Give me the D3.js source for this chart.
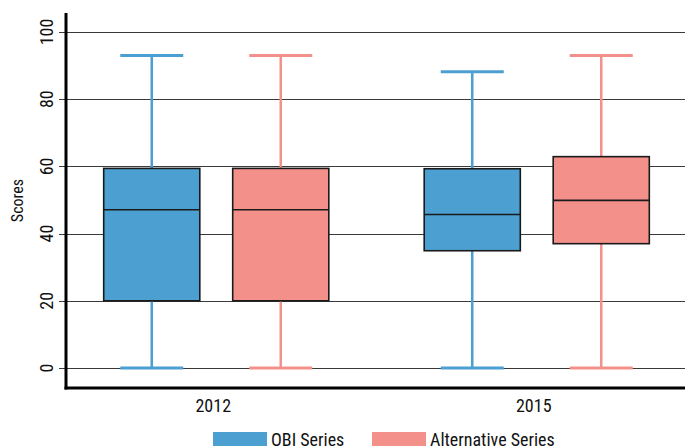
<!DOCTYPE html>
<html>
<head>
<meta charset="utf-8">
<script src="https://cdn.jsdelivr.net/npm/d3@7"></script>
<style>
  body { margin: 0; background: #fff; }
  svg text { font-family: "Liberation Sans Narrow", "Arial Narrow", "Roboto Condensed", sans-serif; fill: #111; }
</style>
</head>
<body>
<svg id="chart" width="685" height="446"></svg>
<script>
"use strict"

// data
let years = ["2012", "2015"];
let series = ["OBI Series", "Alternative Series"];
let colors = ["#4c9fd1", "#f4908a"];
// [whisker low, q1, median, q3, whisker high]
let obiStats = [[0, 20, 47.1, 59.4, 93], [0, 34.9, 45.7, 59.3, 88.2]];
let altStats = [[0, 20, 47.1, 59.4, 93], [0, 37, 49.9, 62.9, 93]];
let yTicks = [0, 20, 40, 60, 80, 100];

let svg = d3.select("#chart");
let plotL = 66, plotR = 685, plotT = 13, plotB = 388;

let y = d3.scaleLinear().domain([-5.95, 105.65]).range([plotB, plotT]);
let x = d3.scaleBand().domain(years).range([56, 697]);
let xSub = d3.scaleBand().domain(series).range([-129, 129]);
let boxW = xSub.bandwidth() * 0.745;
let capW = 63;

// gridlines
svg.append("g").selectAll("line")
    .data(yTicks).enter().append("line")
    .attr("x1", plotL - 7).attr("x2", plotR)
    .attr("y1", d => Math.round(y(d)) + 0.5).attr("y2", d => Math.round(y(d)) + 0.5)
    .attr("stroke", "#3a3a3a").attr("stroke-width", 1.2);

// y tick labels
svg.append("g").selectAll("text")
    .data(yTicks).enter().append("text")
    .attr("transform", d => "translate(53," + y(d) + ") rotate(-90)")
    .attr("text-anchor", "middle")
    .attr("font-size", 18)
    .text(d => d);

svg.append("text")
    .attr("transform", "translate(23," + ((plotT + plotB) / 2) + ") rotate(-90)")
    .attr("text-anchor", "middle")
    .attr("font-size", 16)
    .text("Scores");

let rows = [];
years.forEach(function (yr, i) {
    rows.push({ year: yr, s: series[0], c: colors[0], v: obiStats[i] });
    rows.push({ year: yr, s: series[1], c: colors[1], v: altStats[i] });
});

let g = svg.append("g").selectAll("g")
    .data(rows).enter().append("g")
    .attr("transform", d => "translate(" + (x(d.year) + x.bandwidth() / 2 + xSub(d.s) + xSub.bandwidth() / 2) + ",0)");

// whiskers
g.append("line")
    .attr("x1", 0).attr("x2", 0)
    .attr("y1", d => y(d.v[0])).attr("y2", d => y(d.v[4]))
    .attr("stroke", d => d.c).attr("stroke-width", 2.5);
g.selectAll(".cap")
    .data(d => [{ c: d.c, v: d.v[0] }, { c: d.c, v: d.v[4] }])
    .enter().append("line")
    .attr("class", "cap")
    .attr("x1", -capW / 2).attr("x2", capW / 2)
    .attr("y1", d => y(d.v)).attr("y2", d => y(d.v))
    .attr("stroke", d => d.c).attr("stroke-width", 3);

// boxes
g.append("rect")
    .attr("x", -boxW / 2).attr("width", boxW)
    .attr("y", d => y(d.v[3])).attr("height", d => y(d.v[1]) - y(d.v[3]))
    .attr("fill", d => d.c)
    .attr("stroke", "#1a1a1a").attr("stroke-width", 1.6);
g.append("line")
    .attr("x1", -boxW / 2).attr("x2", boxW / 2)
    .attr("y1", d => y(d.v[2])).attr("y2", d => y(d.v[2]))
    .attr("stroke", "#1a1a1a").attr("stroke-width", 1.6);

// axes
svg.append("line")
    .attr("x1", plotL).attr("x2", plotL).attr("y1", plotT).attr("y2", plotB + 1.5)
    .attr("stroke", "#000").attr("stroke-width", 3);
svg.append("line")
    .attr("x1", plotL - 1.5).attr("x2", plotR).attr("y1", plotB).attr("y2", plotB)
    .attr("stroke", "#000").attr("stroke-width", 3);

svg.append("g").selectAll("text")
    .data(years).enter().append("text")
    .attr("x", d => x(d) + x.bandwidth() / 2 - 3)
    .attr("y", 412)
    .attr("text-anchor", "middle")
    .attr("font-size", 18)
    .text(d => d);

// legend
let legX = [213, 372];
let leg = svg.append("g").selectAll("g")
    .data(series).enter().append("g")
    .attr("transform", (d, i) => "translate(" + legX[i] + ",432)");
leg.append("rect")
    .attr("width", 54).attr("height", 16)
    .attr("fill", (d, i) => colors[i]);
leg.append("text")
    .attr("x", 58).attr("y", 14)
    .attr("font-size", 18)
    .text(d => d);
</script>
</body>
</html>
